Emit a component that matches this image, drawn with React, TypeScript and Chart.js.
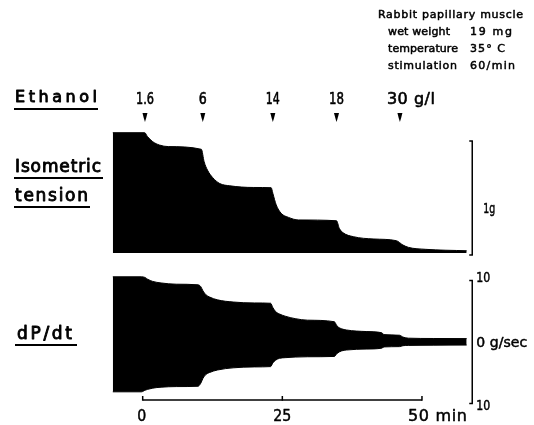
import React, { useEffect, useRef } from "react";
import { Chart, registerables } from "chart.js";

Chart.register(...registerables);

// ---- data (time in min, tension in g, dP/dt in g/sec) ----
const tensionTime = [-5.35, 0.36, 0.85, 1.8, 3.0, 4.6, 10.5, 11.0, 11.6, 12.5, 13.8, 15.6, 19.9, 23.0, 23.3, 23.9, 24.8, 26.1, 27.9, 34.7, 35.2, 35.9, 37.7, 41.4, 45.4, 46.6, 47.6, 50.6, 58.0];
const tensionG = [1.074, 1.074, 1.04, 0.994, 0.964, 0.95, 0.926, 0.815, 0.74, 0.675, 0.62, 0.6, 0.585, 0.583, 0.533, 0.43, 0.354, 0.318, 0.295, 0.288, 0.22, 0.18, 0.146, 0.125, 0.11, 0.071, 0.05, 0.033, 0.02];

const dpdtTime = [-5.35, -0.2, 0.4, 0.9, 1.8, 3.3, 6.0, 9.9, 10.4, 10.8, 11.3, 12.0, 13.4, 16.2, 20.0, 22.9, 23.3, 23.8, 24.5, 25.5, 27.3, 29.5, 34.3, 34.8, 35.6, 36.5, 40.0, 42.8, 43.2, 46.0, 46.6, 47.6, 52.0, 58.0];
const dpdtUpper = [10.6, 10.6, 10.5, 10.2, 9.85, 9.6, 9.4, 9.3, 9.0, 8.3, 7.7, 7.3, 6.85, 6.5, 6.35, 6.3, 5.6, 4.95, 4.55, 4.2, 3.8, 3.55, 3.3, 2.6, 2.15, 1.95, 1.7, 1.5, 1.2, 1.1, 0.8, 0.62, 0.57, 0.55];
const dpdtLower = [-8.1, -8.1, -7.85, -7.7, -7.5, -7.35, -7.25, -7.2, -6.7, -5.9, -5.3, -4.95, -4.55, -4.2, -4.05, -4.0, -3.4, -2.95, -2.65, -2.55, -2.45, -2.4, -2.35, -1.85, -1.45, -1.3, -1.15, -1.0, -0.8, -0.75, -0.6, -0.55, -0.52, -0.5];

const ethanolLabels = ["1.6", "6", "14", "18", "30 g/l"];
const ethanolTimes = [0.41, 10.76, 23.3, 34.7, 46.05];

const timeTicks = [0, 25, 50];
const timeTickLabels = ["0", "25", "50 min"];

const tensionScaleBar = [0, 1];
const dpdtScaleBar = [-10, 0, 10];

const noteLines = [
  ["wet weight", "19 mg"],
  ["temperature", "35° C"],
  ["stimulation", "60/min"],
];

// ---- layout constants ----
const W = 534;
const H = 425;
const PAD = { left: 98, right: 45, top: 70, bottom: 5 };
const X_MIN = -8;
const X_MAX = 62;
const AREA_TOP = PAD.top;
const AREA_BOTTOM = H - PAD.bottom;
const T_ZERO_PX = 253;
const T_PX_PER_G = 112;
const D_ZERO_PX = 342;
const D_PX_PER_UNIT = 6.15;
const FONT = '"DejaVu Sans", "Liberation Sans", sans-serif';

function fitText(
  ctx: CanvasRenderingContext2D,
  text: string,
  x: number,
  y: number,
  size: number,
  width: number,
  align: "left" | "center" = "left",
  heavy = 0.6
) {
  ctx.save();
  ctx.font = `${size}px ${FONT}`;
  ctx.textBaseline = "middle";
  ctx.textAlign = "left";
  ctx.fillStyle = "#000";
  ctx.strokeStyle = "#000";
  ctx.lineWidth = heavy;
  ctx.lineJoin = "round";
  const m = ctx.measureText(text).width;
  const left = align === "center" ? x - width / 2 : x;
  if (m > width) {
    ctx.translate(left, y);
    ctx.scale(width / m, 1);
    ctx.fillText(text, 0, 0);
    if (heavy > 0) ctx.strokeText(text, 0, 0);
  } else {
    const n = text.length;
    const ls = n > 1 ? (width - m) / (n - 1) : 0;
    (ctx as any).letterSpacing = `${ls}px`;
    ctx.fillText(text, left, y);
    if (heavy > 0) ctx.strokeText(text, left, y);
  }
  ctx.restore();
}

function line(ctx: CanvasRenderingContext2D, x1: number, y1: number, x2: number, y2: number, w = 1.5) {
  ctx.save();
  ctx.strokeStyle = "#000";
  ctx.lineWidth = w;
  ctx.beginPath();
  ctx.moveTo(x1, y1);
  ctx.lineTo(x2, y2);
  ctx.stroke();
  ctx.restore();
}

const annotations = {
  id: "figureText",
  afterDraw(chart: any) {
    const ctx: CanvasRenderingContext2D = chart.ctx;
    const xs = chart.scales.x;
    const yT = chart.scales.yT;
    const yD = chart.scales.yD;

    // notes
    fitText(ctx, "Rabbit papillary muscle", 378, 15, 11, 145, "left", 0.5);
    const noteY = [32, 49, 66];
    const noteW = [[62, 42], [70, 35], [69, 45]];
    noteLines.forEach((row, i) => {
      fitText(ctx, row[0], 388, noteY[i], 11, noteW[i][0], "left", 0.5);
      fitText(ctx, row[1], 470, noteY[i], 11, noteW[i][1], "left", 0.5);
    });

    // left labels
    fitText(ctx, "Ethanol", 15, 98, 16, 82, "left", 0.9);
    line(ctx, 14, 109, 98, 109, 1.8);
    fitText(ctx, "Isometric", 15, 168, 17, 86, "left", 0.9);
    line(ctx, 14, 178, 103, 178, 1.8);
    fitText(ctx, "tension", 15, 197, 17, 73, "left", 0.9);
    line(ctx, 14, 207, 90, 207, 1.8);
    fitText(ctx, "dP/dt", 17, 335, 17, 55, "left", 0.9);
    line(ctx, 15, 345, 77, 345, 1.8);

    // ethanol doses and arrows
    const doseW = [18, 8, 14, 15, 48];
    ethanolTimes.forEach((t, i) => {
      const px = xs.getPixelForValue(t);
      if (i === ethanolTimes.length - 1) {
        fitText(ctx, ethanolLabels[i], px - 13, 100, 16, doseW[i], "left", 0.6);
      } else {
        fitText(ctx, ethanolLabels[i], px, 100, 16, doseW[i], "center", 0.6);
      }
      ctx.save();
      ctx.fillStyle = "#000";
      ctx.beginPath();
      ctx.moveTo(px - 2.5, 113);
      ctx.lineTo(px + 2.5, 113);
      ctx.lineTo(px + 1.2, 118);
      ctx.lineTo(px, 122);
      ctx.lineTo(px - 1.2, 118);
      ctx.closePath();
      ctx.fill();
      ctx.restore();
    });

    // tension scale bar
    const barX = xs.getPixelForValue(59);
    const tTop = yT.getPixelForValue(tensionScaleBar[1]);
    const tBot = yT.getPixelForValue(tensionScaleBar[0]) + 2;
    line(ctx, barX, tTop, barX, tBot);
    line(ctx, barX - 3, tTop, barX + 0.7, tTop);
    line(ctx, barX - 3, tBot, barX + 0.7, tBot);
    fitText(ctx, "1g", barX + 11, (tTop + tBot) / 2 + 11, 14, 12, "left", 0.5);

    // dP/dt scale bar
    const dTop = yD.getPixelForValue(dpdtScaleBar[2]);
    const dMid = yD.getPixelForValue(dpdtScaleBar[1]);
    const dBot = yD.getPixelForValue(dpdtScaleBar[0]);
    line(ctx, barX, dTop, barX, dBot);
    line(ctx, barX - 3, dTop, barX + 0.7, dTop);
    line(ctx, barX - 3, dBot, barX + 0.7, dBot);
    fitText(ctx, "10", barX + 4, dTop - 2, 14, 14, "left", 0.5);
    fitText(ctx, "0 g/sec", barX + 4, dMid + 1, 14, 51, "left", 0.5);
    fitText(ctx, "10", barX + 4, dBot + 3, 14, 14, "left", 0.5);

    // time axis bracket
    const axisY = 400;
    const x0 = xs.getPixelForValue(timeTicks[0]);
    const x2 = xs.getPixelForValue(timeTicks[2]);
    line(ctx, x0, axisY, x2, axisY);
    timeTicks.forEach((t, i) => {
      const px = xs.getPixelForValue(t);
      line(ctx, px, axisY + 0.7, px, axisY - 4);
      if (i === 0) fitText(ctx, timeTickLabels[i], px - 1, 417, 16, 9, "center", 0.5);
      else if (i === 1) fitText(ctx, timeTickLabels[i], px, 417, 16, 18, "center", 0.5);
      else fitText(ctx, timeTickLabels[i], px - 14, 417, 16, 59, "left", 0.5);
    });
  },
};

export default function App() {
  const ref = useRef<HTMLCanvasElement | null>(null);

  useEffect(() => {
    if (!ref.current) return;
    const tension = tensionTime.map((t, i) => ({ x: t, y: tensionG[i] }));
    const upper = dpdtTime.map((t, i) => ({ x: t, y: dpdtUpper[i] }));
    const lower = dpdtTime.map((t, i) => ({ x: t, y: dpdtLower[i] }));
    const chart = new Chart(ref.current, {
      type: "line",
      data: {
        datasets: [
          {
            label: "Isometric tension",
            data: tension,
            yAxisID: "yT",
            borderColor: "#000",
            backgroundColor: "#000",
            borderWidth: 1,
            pointRadius: 0,
            fill: "origin",
            cubicInterpolationMode: "monotone",
          },
          {
            label: "dP/dt max",
            data: upper,
            yAxisID: "yD",
            borderColor: "#000",
            backgroundColor: "#000",
            borderWidth: 1,
            pointRadius: 0,
            fill: "+1",
            cubicInterpolationMode: "monotone",
          },
          {
            label: "dP/dt min",
            data: lower,
            yAxisID: "yD",
            borderColor: "#000",
            backgroundColor: "#000",
            borderWidth: 1,
            pointRadius: 0,
            fill: false,
            cubicInterpolationMode: "monotone",
          },
        ],
      },
      options: {
        responsive: false,
        animation: false,
        devicePixelRatio: 1,
        layout: { padding: PAD },
        plugins: { legend: { display: false }, tooltip: { enabled: false }, title: { display: false } },
        scales: {
          x: { type: "linear", min: X_MIN, max: X_MAX, display: false },
          yT: {
            type: "linear",
            display: false,
            min: -(AREA_BOTTOM - T_ZERO_PX) / T_PX_PER_G,
            max: (T_ZERO_PX - AREA_TOP) / T_PX_PER_G,
          },
          yD: {
            type: "linear",
            display: false,
            min: -(AREA_BOTTOM - D_ZERO_PX) / D_PX_PER_UNIT,
            max: (D_ZERO_PX - AREA_TOP) / D_PX_PER_UNIT,
          },
        },
      },
      plugins: [annotations],
    });
    return () => chart.destroy();
  }, []);

  return (
    <div style={{ position: "absolute", left: 0, top: 0, width: W, height: H, background: "#fff" }}>
      <canvas ref={ref} width={W} height={H} style={{ display: "block" }} />
    </div>
  );
}
